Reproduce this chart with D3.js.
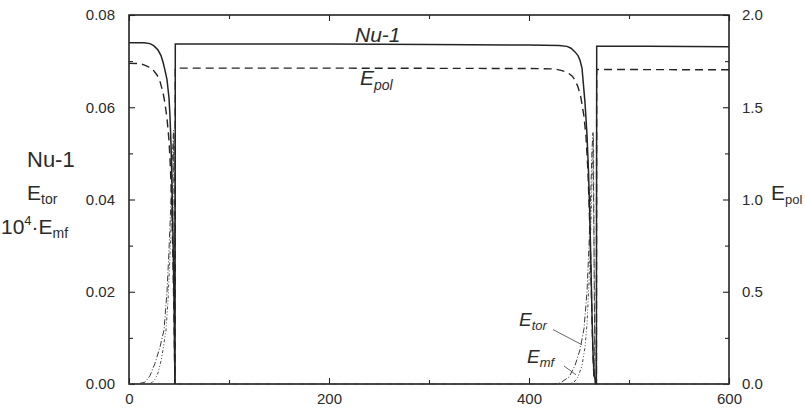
<!DOCTYPE html>
<html>
<head>
<meta charset="utf-8">
<script src="https://cdn.jsdelivr.net/npm/d3@7"></script>
<style>
  html, body { margin: 0; padding: 0; background: #fff; }
  svg { display: block; }
  text { font-family: "Liberation Sans", Arial, Helvetica, sans-serif; fill: #2b2b2b; }
</style>
</head>
<body>
<svg id="chart" width="805" height="417"></svg>
<script>
// ---- time series (time, value) ----
// Nu-1 (left axis)
const nuTime = [0, 15, 21, 25, 29, 32, 34, 36, 38, 40, 41, 42, 43, 44, 45, 45.6, 46.0,
  46.3, 100, 200, 300, 400, 430, 438, 442, 446, 449, 451, 453, 454, 456, 458, 459.5,
  461, 462, 463, 464, 465, 467.4, 467.7, 520, 600];
const nuVal = [0.0740, 0.0740, 0.0738, 0.0733, 0.0724, 0.0712, 0.0698, 0.0680, 0.0660, 0.0620, 0.0580, 0.0520, 0.0430, 0.0320, 0.0180, 0.0060, 0.0000,
  0.0737, 0.0737, 0.0737, 0.0736, 0.0735, 0.0734, 0.0732, 0.0728, 0.0720, 0.0712, 0.0702, 0.0685, 0.0660, 0.0610, 0.0540, 0.0460,
  0.0350, 0.0250, 0.0150, 0.0070, 0.0020, 0.0000, 0.0732, 0.0732, 0.0731];

// E_pol (right axis)
const polTime = [0, 10, 15, 20, 23, 28, 31, 34, 36, 38, 40, 41, 42, 43, 44, 45, 45.6, 46.0,
  46.3, 100, 200, 300, 400, 425, 432, 438, 443, 446, 449, 452, 455, 457, 459,
  460.5, 462, 463, 464, 465, 467.4, 467.7, 520, 600];
const polVal = [1.738, 1.737, 1.730, 1.718, 1.710, 1.675, 1.640, 1.580, 1.520, 1.440, 1.320, 1.220, 1.090, 0.910, 0.660, 0.360, 0.120, 0.000,
  1.712, 1.712, 1.712, 1.711, 1.710, 1.708, 1.700, 1.690, 1.670, 1.648, 1.610, 1.550, 1.450, 1.340, 1.150,
  0.900, 0.600, 0.350, 0.150, 0.030, 0.000, 1.705, 1.704, 1.703];

// E_tor (left axis)
const torTime = [0, 5, 10, 16, 21, 26, 31, 35, 38, 40, 42, 43.5, 44.5, 45.3, 46.0,
  100, 300, 425, 431, 440, 446, 451, 455, 458, 460, 462, 463, 464, 465, 466, 600];
const torVal = [0.0000, 0.0000, 0.0001, 0.0004, 0.0018, 0.0045, 0.0080, 0.0117, 0.0200, 0.0290, 0.0400, 0.0500, 0.0550, 0.0300, 0.0000,
  0.0000, 0.0000, 0.0000, 0.0002, 0.0015, 0.0040, 0.0074, 0.0120, 0.0200, 0.0300, 0.0430, 0.0510, 0.0545, 0.0300, 0.0000, 0.0000];

// E_mf (left axis, scaled by 10^4)
const mfTime = [0, 15, 20, 23, 26, 29, 32, 34, 37, 39, 41, 43, 44.5, 45.1, 45.7, 46.0,
  100, 300, 440, 445, 449, 453, 456, 458, 460, 462, 463.5, 464.5, 465.3, 466, 600];
const mfVal = [0.0000, 0.0000, 0.0001, 0.0003, 0.0010, 0.0024, 0.0050, 0.0074, 0.0117, 0.0180, 0.0280, 0.0400, 0.0500, 0.0530, 0.0250, 0.0000,
  0.0000, 0.0000, 0.0000, 0.0004, 0.0015, 0.0040, 0.0080, 0.0130, 0.0220, 0.0350, 0.0480, 0.0540, 0.0200, 0.0000, 0.0000];

// ---- axis ticks ----
const xMajor = [0, 200, 400, 600];
const xMinor = [100, 300, 500];
const yLeftMajor = [0, 0.02, 0.04, 0.06, 0.08];
const yLeftMinor = [0.01, 0.03, 0.05, 0.07];
const yRightMajor = [0, 0.5, 1.0, 1.5, 2.0];
const yRightMinor = [0.25, 0.75, 1.25, 1.75];

// ---- curve annotations: label anchor, leader start, point on curve (time, left-axis value) ----
const torNote = { label: "tor", tx: 390, ty: 0.0125, lx: 424, ly: 0.0118, px: 453, py: 0.0085 };
const mfNote  = { label: "mf",  tx: 398, ty: 0.0045, lx: 435, ly: 0.0039, px: 447, py: 0.0020 };

const svg = d3.select("#chart");
const margin = { left: 129, right: 76, top: 15, bottom: 33 };
const W = 805, H = 417;

const x = d3.scaleLinear().domain([0, 600]).range([margin.left, W - margin.right]);
const yL = d3.scaleLinear().domain([0, 0.08]).range([H - margin.bottom, margin.top]);
const yR = d3.scaleLinear().domain([0, 2.0]).range([H - margin.bottom, margin.top]);

const ink = "#242424";

// axes: ticks point into the plot
function styleAxis(g) {
  g.select(".domain").remove();
  g.selectAll(".tick line").attr("stroke", ink).attr("stroke-width", 1.1);
  g.selectAll(".tick text").style("font-size", "15px").attr("fill", "#333");
}

svg.append("g").attr("transform", `translate(0,${yL(0)})`)
  .call(d3.axisBottom(x).tickValues(xMajor).tickSize(-6).tickPadding(9).tickFormat(d3.format("d")))
  .call(styleAxis);
svg.append("g").attr("transform", `translate(0,${yL(0)})`)
  .call(d3.axisBottom(x).tickValues(xMinor).tickSize(-4).tickFormat(""))
  .call(styleAxis);
svg.append("g").attr("transform", `translate(0,${yL(0.08)})`)
  .call(d3.axisTop(x).tickValues(xMajor).tickSize(-6).tickFormat(""))
  .call(styleAxis);
svg.append("g").attr("transform", `translate(0,${yL(0.08)})`)
  .call(d3.axisTop(x).tickValues(xMinor).tickSize(-4).tickFormat(""))
  .call(styleAxis);

svg.append("g").attr("transform", `translate(${x(0)},0)`)
  .call(d3.axisLeft(yL).tickValues(yLeftMajor).tickSize(-6).tickPadding(14).tickFormat(d3.format(".2f")))
  .call(styleAxis);
svg.append("g").attr("transform", `translate(${x(0)},0)`)
  .call(d3.axisLeft(yL).tickValues(yLeftMinor).tickSize(-4).tickFormat(""))
  .call(styleAxis);

svg.append("g").attr("transform", `translate(${x(600)},0)`)
  .call(d3.axisRight(yR).tickValues(yRightMajor).tickSize(-6).tickPadding(13).tickFormat(d3.format(".1f")))
  .call(styleAxis);
svg.append("g").attr("transform", `translate(${x(600)},0)`)
  .call(d3.axisRight(yR).tickValues(yRightMinor).tickSize(-4).tickFormat(""))
  .call(styleAxis);

// frame
svg.append("rect")
  .attr("x", x(0)).attr("y", yL(0.08))
  .attr("width", x(600) - x(0)).attr("height", yL(0) - yL(0.08))
  .attr("fill", "none").attr("stroke", ink).attr("stroke-width", 1.6);

// curves
function series(times, vals, yScale) {
  return d3.line().x((d, i) => x(times[i])).y((d, i) => yScale(vals[i]))(vals);
}

svg.append("path").attr("d", series(mfTime, mfVal, yL))
  .attr("fill", "none").attr("stroke", "#4a4a4a").attr("stroke-width", 1)
  .attr("stroke-dasharray", "3,2,1,2,1,2");
svg.append("path").attr("d", series(torTime, torVal, yL))
  .attr("fill", "none").attr("stroke", "#3a3a3a").attr("stroke-width", 1)
  .attr("stroke-dasharray", "6,2,1,2");
svg.append("path").attr("d", series(polTime, polVal, yR))
  .attr("fill", "none").attr("stroke", ink).attr("stroke-width", 1.4)
  .attr("stroke-dasharray", "8,5");
svg.append("path").attr("d", series(nuTime, nuVal, yL))
  .attr("fill", "none").attr("stroke", ink).attr("stroke-width", 1.5);

// in-plot labels
svg.append("text").attr("x", 355).attr("y", 42)
  .style("font-size", "21px").style("font-style", "italic").text("Nu-1");

const pol = svg.append("text").attr("x", 360).attr("y", 85)
  .style("font-size", "21px").style("font-style", "italic");
pol.append("tspan").text("E");
pol.append("tspan").attr("dy", 5).style("font-size", "14px").text("pol");

function note(n) {
  const t = svg.append("text").attr("x", x(n.tx)).attr("y", yL(n.ty))
    .style("font-size", "19px").style("font-style", "italic");
  t.append("tspan").text("E");
  t.append("tspan").attr("dy", 4).style("font-size", "13px").text(n.label);
  svg.append("line")
    .attr("x1", x(n.lx)).attr("y1", yL(n.ly))
    .attr("x2", x(n.px)).attr("y2", yL(n.py))
    .attr("stroke", "#555").attr("stroke-width", 0.9);
}
note(torNote);
note(mfNote);

// axis titles
svg.append("text").attr("x", 27).attr("y", 167).style("font-size", "22px").text("Nu-1");
const tor = svg.append("text").attr("x", 27).attr("y", 200).style("font-size", "21px");
tor.append("tspan").text("E");
tor.append("tspan").attr("dy", 4).style("font-size", "14px").text("tor");

const mf = svg.append("text").attr("x", 1).attr("y", 234).style("font-size", "21px");
mf.append("tspan").text("10");
mf.append("tspan").attr("dy", -9).style("font-size", "13px").text("4");
mf.append("tspan").attr("dy", 9).text("·E");
mf.append("tspan").attr("dy", 4).style("font-size", "14px").text("mf");

const rp = svg.append("text").attr("x", 771).attr("y", 200).style("font-size", "21px");
rp.append("tspan").text("E");
rp.append("tspan").attr("dy", 4).style("font-size", "13px").text("pol");
</script>
</body>
</html>
